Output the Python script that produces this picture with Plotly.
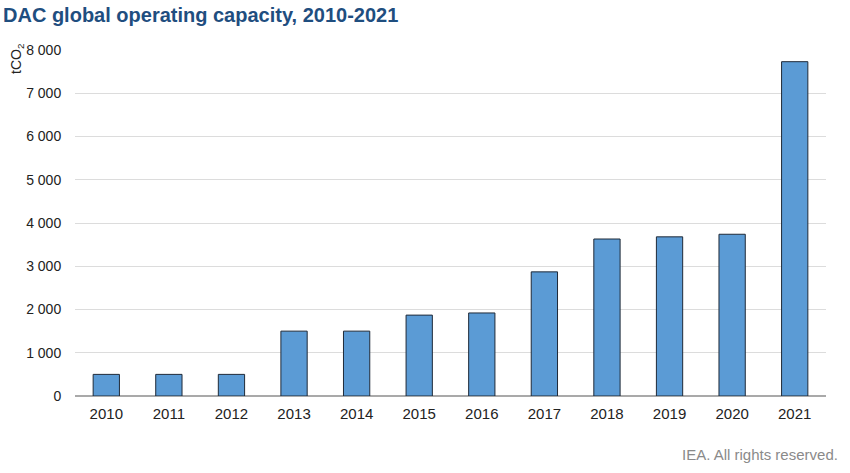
import plotly.graph_objects as go

years = ["2010", "2011", "2012", "2013", "2014", "2015", "2016", "2017", "2018", "2019", "2020", "2021"]
capacity = [500, 500, 500, 1500, 1500, 1870, 1920, 2870, 3630, 3680, 3740, 7730]
y_ticks = [0, 1000, 2000, 3000, 4000, 5000, 6000, 7000, 8000]

W, H = 850, 473
L, R, T, B = 75, 24, 50, 77
PW, PH = W - L - R, H - T - B


def px_x(x):
    return (x - L) / PW


def px_y(y):
    return (H - B - y) / PH


fig = go.Figure(go.Bar(
    x=years, y=capacity,
    marker=dict(color="#5b9bd5", line=dict(color="#1f2a38", width=1)),
    hoverinfo="x+y",
))

fig.update_layout(
    width=W, height=H,
    margin=dict(l=L, r=R, t=T, b=B),
    paper_bgcolor="white", plot_bgcolor="white",
    separators=". ",
    bargap=0.58,
    font=dict(family="Liberation Sans, Arial, sans-serif", size=14, color="#222222"),
    showlegend=False,
    xaxis=dict(showgrid=False, showline=False, ticks="outside", ticklen=4,
               tickcolor="rgba(0,0,0,0)", tickfont=dict(size=15, color="#222222")),
    yaxis=dict(range=[0, 8000], tickvals=y_ticks, tickformat=",d",
               showgrid=True, gridcolor="#dcdcdc", gridwidth=1,
               zeroline=True, zerolinecolor="#a9a9a9", zerolinewidth=1.5,
               showline=False, ticks="outside", ticklen=10, tickcolor="rgba(0,0,0,0)",
               tickfont=dict(size=14, color="#222222")),
    annotations=[
        dict(text="<b>DAC global operating capacity, 2010-2021</b>", xref="paper", yref="paper",
             x=px_x(1), y=px_y(15), xanchor="left", yanchor="middle",
             showarrow=False, font=dict(size=20, color="#1f4e7f")),
        dict(text="tCO<sub>2</sub>", xref="paper", yref="paper", textangle=-90,
             x=px_x(17), y=px_y(59), xanchor="center", yanchor="middle",
             showarrow=False, font=dict(size=14, color="#222222")),
        dict(text="IEA. All rights reserved.", xref="paper", yref="paper",
             x=px_x(840), y=px_y(455), xanchor="right", yanchor="middle",
             showarrow=False, font=dict(size=15, color="#8a8a8a")),
    ],
)

fig.write_html("out.html", config={"displayModeBar": False},
               post_script="document.body.style.margin='0px';")
